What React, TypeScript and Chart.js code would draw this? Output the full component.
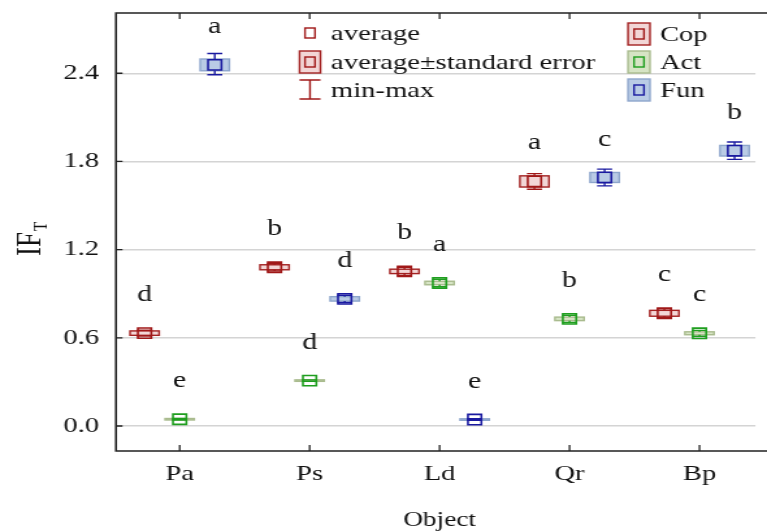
import React, { useEffect, useRef } from "react";
import { Chart, registerables } from "chart.js";
Chart.register(...registerables);

// ---------- data ----------
const categories = ["Pa", "Ps", "Ld", "Qr", "Bp"];
const seriesNames = ["Cop", "Act", "Fun"];

const copMean = [0.632, 1.08, 1.052, 1.664, 0.767];
const copSE = [0.015, 0.017, 0.015, 0.038, 0.02];
const copMin = [0.612, 1.055, 1.024, 1.611, 0.737];
const copMax = [0.652, 1.105, 1.08, 1.717, 0.797];
const copLetters = ["d", "b", "b", "a", "c"];

const actMean = [0.046, 0.309, 0.973, 0.729, 0.631];
const actSE = [0.003, 0.003, 0.012, 0.012, 0.01];
const actMin = [0.041, 0.304, 0.948, 0.704, 0.611];
const actMax = [0.051, 0.314, 0.998, 0.754, 0.651];
const actLetters = ["e", "d", "a", "b", "c"];

const funMean = [2.457, 0.865, 0.044, 1.691, 1.873];
const funSE = [0.04, 0.015, 0.003, 0.034, 0.036];
const funMin = [2.39, 0.84, 0.039, 1.634, 1.814];
const funMax = [2.534, 0.89, 0.049, 1.748, 1.932];
const funLetters = ["a", "d", "e", "c", "b"];

const yTicks = [0, 0.6, 1.2, 1.8, 2.4];
const yTitle = "IF";
const yTitleSub = "T";
const xTitle = "Object";
const legendStatLabels = ["average", "average\u00b1standard error", "min-max"];

// ---------- layout / style ----------
const DISPLAY_W = 767;
const H = 531;
const STRETCH = 1.3;
const W = Math.round(DISPLAY_W / STRETCH);
const FONT = "'Liberation Serif', 'DejaVu Serif', serif";
const offsets = [-0.27, 0, 0.27];

const styles = [
  { marker: "#a01818", whisker: "#a01818", boxStroke: "#a32222", boxFill: "#f2d6d6" },
  { marker: "#1f9e1f", whisker: "#1f9e1f", boxStroke: "#a9bb8e", boxFill: "#d6e4c4" },
  { marker: "#1a1aa0", whisker: "#1a1aa0", boxStroke: "#8ea6cc", boxFill: "#b9cbe5" },
];

const SERIES = [
  { name: seriesNames[0], mean: copMean, se: copSE, min: copMin, max: copMax, letters: copLetters },
  { name: seriesNames[1], mean: actMean, se: actSE, min: actMin, max: actMax, letters: actLetters },
  { name: seriesNames[2], mean: funMean, se: funSE, min: funMin, max: funMax, letters: funLetters },
];

const BOX_HALF = 11.2;
const CAP_HALF = 5.8;
const d = (v: number) => v / STRETCH;

const boxPlugin = {
  id: "seBoxes",
  beforeDatasetsDraw(chart: any) {
    const { ctx, scales } = chart;
    const x = scales.x;
    const y = scales.y;
    ctx.save();
    SERIES.forEach((s, k) => {
      const st = styles[k];
      s.mean.forEach((m, i) => {
        const px = x.getPixelForValue(i + offsets[k]);
        const top = y.getPixelForValue(m + s.se[i]);
        const bot = y.getPixelForValue(m - s.se[i]);
        const pm = y.getPixelForValue(m);
        const h = Math.max(bot - top, 1.5);
        ctx.fillStyle = st.boxFill;
        ctx.strokeStyle = st.boxStroke;
        ctx.lineWidth = 1.4;
        ctx.fillRect(px - BOX_HALF, pm - h / 2, 2 * BOX_HALF, h);
        ctx.strokeRect(px - BOX_HALF, pm - h / 2, 2 * BOX_HALF, h);
        const pmax = y.getPixelForValue(s.max[i]);
        const pmin = y.getPixelForValue(s.min[i]);
        ctx.strokeStyle = st.whisker;
        ctx.lineWidth = 1.4;
        ctx.beginPath();
        if (pmax < pm - h / 2) {
          ctx.moveTo(px, pmax);
          ctx.lineTo(px, pm - h / 2);
        }
        if (pmin > pm + h / 2) {
          ctx.moveTo(px, pm + h / 2);
          ctx.lineTo(px, pmin);
        }
        ctx.moveTo(px - CAP_HALF, pmax);
        ctx.lineTo(px + CAP_HALF, pmax);
        ctx.moveTo(px - CAP_HALF, pmin);
        ctx.lineTo(px + CAP_HALF, pmin);
        ctx.stroke();
      });
    });
    ctx.restore();
  },
  afterDatasetsDraw(chart: any) {
    const { ctx, scales } = chart;
    const x = scales.x;
    const y = scales.y;
    ctx.save();
    ctx.fillStyle = "#111";
    ctx.font = `23px ${FONT}`;
    ctx.textAlign = "center";
    ctx.textBaseline = "middle";
    SERIES.forEach((s, k) => {
      s.mean.forEach((m, i) => {
        const px = x.getPixelForValue(i + offsets[k]);
        const pm = y.getPixelForValue(m);
        ctx.fillText(s.letters[i], px, pm - 38);
      });
    });
    ctx.restore();
  },
  afterDraw(chart: any) {
    const { ctx, scales, chartArea } = chart;
    const x = scales.x;
    const y = scales.y;
    const { left, top, bottom } = chartArea;
    ctx.save();
    // frame
    ctx.strokeStyle = "#222";
    ctx.lineWidth = 1.6;
    ctx.beginPath();
    ctx.moveTo(W + 2, top);
    ctx.lineTo(left, top);
    ctx.lineTo(left, bottom);
    ctx.lineTo(W + 2, bottom);
    ctx.stroke();
    // inward ticks
    ctx.lineWidth = 1.3;
    ctx.beginPath();
    yTicks.forEach((v) => {
      const py = y.getPixelForValue(v);
      ctx.moveTo(left, py);
      ctx.lineTo(left + 5, py);
    });
    categories.forEach((_, i) => {
      const px = x.getPixelForValue(i);
      ctx.moveTo(px, bottom);
      ctx.lineTo(px, bottom - 6);
      ctx.moveTo(px, top);
      ctx.lineTo(px, top + 6);
    });
    ctx.stroke();

    // x title
    ctx.fillStyle = "#111";
    ctx.font = `21px ${FONT}`;
    ctx.textAlign = "center";
    ctx.textBaseline = "alphabetic";
    ctx.fillText(xTitle, x.getPixelForValue(2), 526);

    // y title (rotated) with subscript
    ctx.save();
    ctx.translate(31, 256);
    ctx.rotate(-Math.PI / 2);
    ctx.font = `27px ${FONT}`;
    ctx.textAlign = "left";
    ctx.fillText(yTitle, 0, 0);
    const w = ctx.measureText(yTitle).width;
    ctx.font = `15px ${FONT}`;
    ctx.fillText(yTitleSub, w + 1, 5);
    ctx.restore();

    // legend: statistics
    const red = styles[0];
    ctx.font = `22px ${FONT}`;
    ctx.textAlign = "left";
    ctx.textBaseline = "middle";
    const lcx = d(310);
    const ltx = d(331);
    const rows = [33, 62, 90];
    ctx.lineWidth = 1.4;
    ctx.fillStyle = "#fff";
    ctx.strokeStyle = red.marker;
    ctx.fillRect(lcx - d(5), rows[0] - 5, d(10), 10);
    ctx.strokeRect(lcx - d(5), rows[0] - 5, d(10), 10);
    ctx.fillStyle = red.boxFill;
    ctx.strokeStyle = red.boxStroke;
    ctx.fillRect(lcx - d(10.5), rows[1] - 11, d(21), 22);
    ctx.strokeRect(lcx - d(10.5), rows[1] - 11, d(21), 22);
    ctx.strokeStyle = red.marker;
    ctx.strokeRect(lcx - d(5), rows[1] - 5, d(10), 10);
    ctx.beginPath();
    ctx.moveTo(lcx - d(10.5), rows[2] - 10);
    ctx.lineTo(lcx + d(10.5), rows[2] - 10);
    ctx.moveTo(lcx, rows[2] - 10);
    ctx.lineTo(lcx, rows[2] + 9);
    ctx.moveTo(lcx - d(10.5), rows[2] + 9);
    ctx.lineTo(lcx + d(10.5), rows[2] + 9);
    ctx.stroke();
    ctx.fillStyle = "#111";
    legendStatLabels.forEach((t, i) => ctx.fillText(t, ltx, rows[i] + 1));

    // legend: series
    const rcx = d(639);
    const rtx = d(660);
    const rrows = [34, 62, 90];
    SERIES.forEach((s, k) => {
      const st = styles[k];
      const cy = rrows[k];
      ctx.fillStyle = st.boxFill;
      ctx.strokeStyle = st.boxStroke;
      ctx.lineWidth = 1.4;
      ctx.fillRect(rcx - d(11), cy - 11, d(22), 22);
      ctx.strokeRect(rcx - d(11), cy - 11, d(22), 22);
      ctx.strokeStyle = st.marker;
      ctx.strokeRect(rcx - d(5), cy - 5, d(10), 10);
      ctx.fillStyle = "#111";
      ctx.fillText(s.name, rtx, cy + 1);
    });
    ctx.restore();
  },
};

export default function App() {
  const ref = useRef<HTMLCanvasElement | null>(null);
  useEffect(() => {
    document.body.style.margin = "0";
    document.body.style.overflow = "hidden";
    const canvas = ref.current;
    if (!canvas) return;
    const chart = new Chart(canvas, {
      type: "scatter",
      data: {
        datasets: SERIES.map((s, k) => ({
          label: s.name,
          data: s.mean.map((m, i) => ({ x: i + offsets[k], y: m })),
          pointStyle: "rect",
          pointRadius: 7.3,
          pointHoverRadius: 7.3,
          pointBorderWidth: 1.6,
          pointBorderColor: styles[k].marker,
          pointBackgroundColor: "rgba(0,0,0,0)",
          showLine: false,
        })),
      },
      options: {
        responsive: false,
        animation: false,
        devicePixelRatio: 1,
        events: [],
        layout: { padding: { top: 13, left: 0, right: 0, bottom: 0 } },
        plugins: { legend: { display: false }, tooltip: { enabled: false } },
        scales: {
          x: {
            type: "linear",
            min: -0.49,
            max: -0.49 + (DISPLAY_W - 116) / 132.3,
            afterBuildTicks: (scale: any) => {
              scale.ticks = categories.map((_, i) => ({ value: i }));
            },
            afterFit: (scale: any) => {
              scale.height = 80;
              scale.paddingLeft = 0;
              scale.paddingRight = 0;
            },
            grid: { display: false, drawTicks: false },
            border: { display: false },
            ticks: {
              padding: 10,
              maxRotation: 0,
              autoSkip: false,
              color: "#111",
              font: { family: FONT, size: 22 },
              callback: (v: any) => categories[Math.round(Number(v))] ?? "",
            },
          },
          y: {
            type: "linear",
            min: -0.17,
            max: 2.81,
            afterBuildTicks: (scale: any) => {
              scale.ticks = yTicks.map((v) => ({ value: v }));
            },
            afterFit: (scale: any) => {
              scale.width = d(116);
              scale.paddingTop = 0;
              scale.paddingBottom = 0;
            },
            grid: { color: "#d4d4d4", lineWidth: 1.5, drawTicks: false },
            border: { display: false },
            ticks: {
              padding: 13,
              color: "#111",
              font: { family: FONT, size: 22 },
              callback: (v: any) => Number(v).toFixed(1),
            },
          },
        },
      },
      plugins: [boxPlugin],
    } as any);
    return () => chart.destroy();
  }, []);
  return (
    <canvas
      ref={ref}
      width={W}
      height={H}
      style={{ width: DISPLAY_W + "px", height: H + "px", display: "block" }}
    />
  );
}
